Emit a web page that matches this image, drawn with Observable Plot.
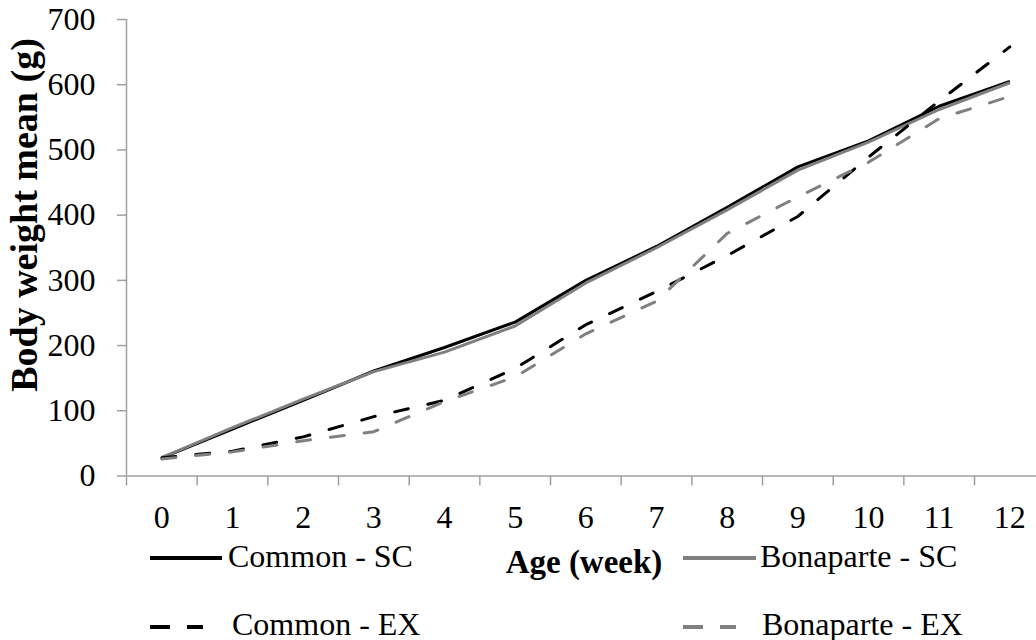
<!DOCTYPE html>
<html><head><meta charset="utf-8">
<script src="https://cdn.jsdelivr.net/npm/d3@7"></script>
<script src="https://cdn.jsdelivr.net/npm/@observablehq/plot@0.6"></script>
<style>body{margin:0;background:#fff;}</style>
</head><body><div id="chart"></div>
<script>
// ---- data ----
const weeks = [0, 1, 2, 3, 4, 5, 6, 7, 8, 9, 10, 11, 12];
const commonSC    = [28, 72, 116, 161, 197, 236, 300, 352, 412, 474, 514, 567, 605];
const bonaparteSC = [28, 74, 118, 160, 190, 230, 296, 350, 408, 469, 512, 562, 603];
const commonEX    = [28, 38, 60, 91, 116, 165, 232, 283, 338, 398, 489, 575, 658];
const bonaparteEX = [26, 37, 54, 68, 114, 152, 218, 268, 372, 428, 481, 548, 582];
const yTicks = [0, 100, 200, 300, 400, 500, 600, 700];
const seriesNames = ["Common - SC", "Bonaparte - SC", "Common - EX", "Bonaparte - EX"];
const xLabel = "Age (week)";
const yLabel = "Body weight mean (g)";

const seriesValues = [commonSC, bonaparteSC, commonEX, bonaparteEX];
const seriesColors = ["#000000", "#808080", "#000000", "#808080"];
const seriesDash = [null, null, "14,20", "14,20"];

const data = seriesNames.flatMap((name, i) =>
  weeks.map((w, j) => ({series: name, week: w, value: seriesValues[i][j]})));

const font = "'Liberation Serif', 'Times New Roman', serif";
const axisGray = "#a0a0a0";

const lineMarks = seriesNames.map((name, i) =>
  Plot.line(data.filter(d => d.series === name), {
    x: "week", y: "value",
    stroke: seriesColors[i],
    strokeWidth: 3,
    strokeDasharray: seriesDash[i] || undefined,
    strokeLinecap: seriesDash[i] ? "round" : "butt",
    strokeLinejoin: "round"
  }));

const plot = Plot.plot({
  width: 1036, height: 640,
  marginLeft: 126, marginRight: 0, marginTop: 19, marginBottom: 164.5,
  style: {fontFamily: font, fontSize: "32px", color: "#000", background: "#fff", overflow: "visible"},
  x: {type: "linear", domain: [-0.5, 12.377]},
  y: {domain: [0, 700]},
  marks: [
    Plot.axisY(yTicks, {tickSize: 9, tickPadding: 22, stroke: axisGray, strokeWidth: 1.5, label: null, fontSize: 32, fill: "#000"}),
    Plot.axisX(weeks.map(w => w - 0.5), {tickSize: 10, tickFormat: () => "", stroke: axisGray, strokeWidth: 1.5, label: null}),
    Plot.axisX(weeks, {tickSize: 0, tickPadding: 29.5, label: null, fontSize: 32, fill: "#000"}),
    Plot.ruleY([0], {stroke: axisGray, strokeWidth: 1.5}),
    Plot.ruleX([-0.5], {stroke: axisGray, strokeWidth: 1.5}),
    ...lineMarks
  ]
});
document.getElementById("chart").appendChild(plot);

// ---- axis titles and legend ----
const svg = d3.select(plot);
svg.append("text")
  .attr("transform", "translate(37,215) rotate(-90)")
  .attr("text-anchor", "middle")
  .attr("font-family", font).attr("font-size", 38).attr("font-weight", "bold")
  .attr("fill", "#000")
  .text(yLabel);
svg.append("text")
  .attr("x", 584).attr("y", 573)
  .attr("text-anchor", "middle")
  .attr("font-family", font).attr("font-size", 33).attr("font-weight", "bold")
  .attr("fill", "#000")
  .text(xLabel);

const legendPos = [
  {lx: 150, len: 72, ly: 558, tx: 228, ty: 567},
  {lx: 683, len: 73, ly: 558, tx: 760, ty: 567},
  {lx: 150, len: 53, ly: 627, tx: 232, ty: 635},
  {lx: 683, len: 53, ly: 627, tx: 762, ty: 635}
];
seriesNames.forEach((name, i) => {
  const p = legendPos[i];
  svg.append("line")
    .attr("x1", p.lx).attr("x2", p.lx + p.len)
    .attr("y1", p.ly).attr("y2", p.ly)
    .attr("stroke", seriesColors[i]).attr("stroke-width", 4)
    .attr("stroke-dasharray", seriesDash[i] ? "20,17" : null);
  svg.append("text")
    .attr("x", p.tx).attr("y", p.ty)
    .attr("text-anchor", "start")
    .attr("font-family", font).attr("font-size", 32)
    .attr("fill", "#000")
    .text(name);
});
</script>
</body></html>
